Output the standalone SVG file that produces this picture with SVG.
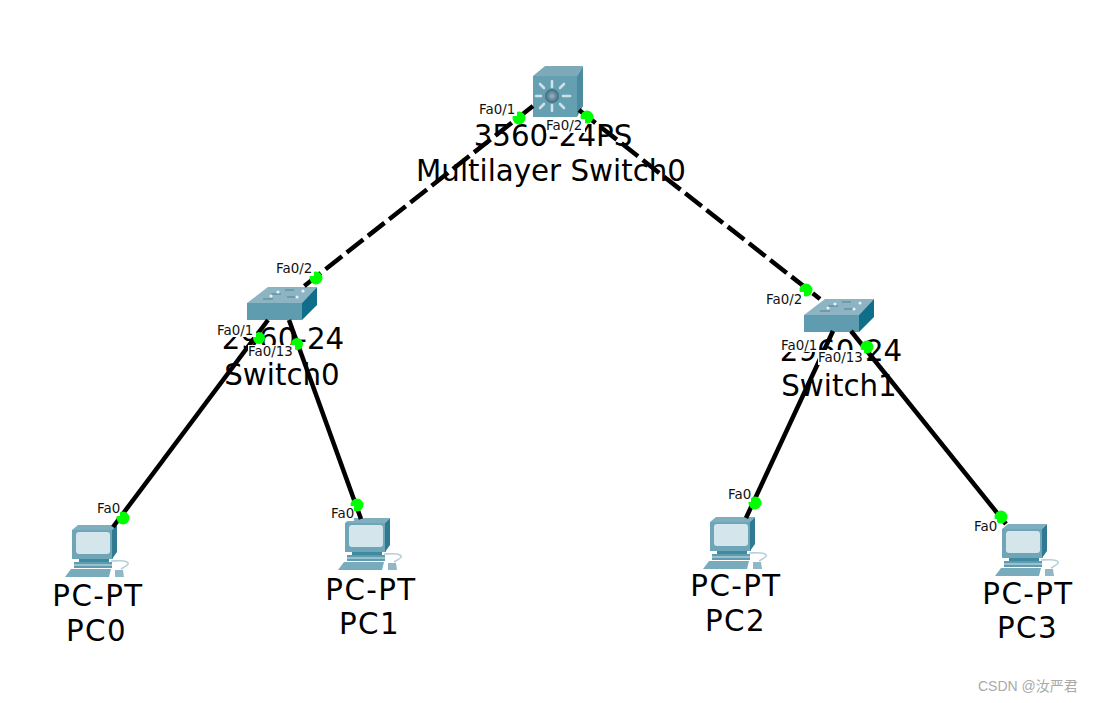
<svg xmlns="http://www.w3.org/2000/svg" width="1093" height="703" viewBox="0 0 1093 703">
<style>
.big{font-family:"DejaVu Sans",sans-serif;font-size:29.3px;fill:#000;text-anchor:middle}
.pcl{letter-spacing:1.4px}
.port{font-family:"DejaVu Sans",sans-serif;font-size:13.4px;fill:#111}
.bg{fill:#fff}
.link{fill:none;stroke:#000;stroke-width:4.5;stroke-linecap:butt}
.dash{stroke-dasharray:21 6}
.dot{fill:#0f0}
.wm{font-family:"Liberation Sans","Noto Sans CJK SC",sans-serif;font-size:14px;fill:#aaa}
</style>
<defs>
<g id="swi">
<polygon points="0,16 21,0 70,0 55,16" fill="#8db4c2"/>
<polygon points="0,16 55,16 55,33 0,33" fill="#5f9cb0"/>
<polygon points="55,16 70,0 70,18 55,33" fill="#0f6f8a"/>
<path d="M24 7h10M38 3h9M40 10h9M16 12h10" stroke="#6f9aaa" stroke-width="2" fill="none"/>
<circle cx="56" cy="4" r="1.6" fill="#e8f2f5"/><circle cx="24" cy="9" r="1.6" fill="#e8f2f5"/><circle cx="31" cy="5" r="1.6" fill="#e8f2f5"/><circle cx="50" cy="10" r="1.6" fill="#e8f2f5"/>
</g>
<g id="pc">
<polygon points="7,5 13,0 52,0 47,5" fill="#7fafbf"/>
<rect x="7" y="5" width="41" height="29" fill="#6ea6b8"/>
<polygon points="47,5 52,0 52,27 47,34" fill="#2f7a92"/>
<rect x="11" y="7" width="34" height="22" rx="3" fill="#d5e5ec"/>
<rect x="14" y="34" width="30" height="3" fill="#3f8aa0"/>
<rect x="9" y="37" width="38" height="6" fill="#5f9cb0"/>
<rect x="9" y="39.500" width="38" height="1" fill="#d5e5ec"/>
<polygon points="6,44 46,44 44,52 0,52" fill="#78abbc"/>
<path d="M46 36c6 0 12-1 16 1s-3 5-6 7" fill="none" stroke="#b7d0d9" stroke-width="1.6"/>
<polygon points="50,45 58,45 59,52 50,52" fill="#8fb7c5"/>
</g>
<radialGradient id="hub"><stop offset="0" stop-color="#9ab4c0"/><stop offset="1" stop-color="#3a6a7e"/></radialGradient>
</defs>
<rect width="1093" height="703" fill="#fff"/>
<g id="mls">
<text class="big" x="553" y="146">3560-24PS</text>
<text class="big" x="551" y="181">Multilayer Switch0</text>
<polygon points="533,76 545,66 583,66 577,76" fill="#7ea9b8"/>
<polygon points="577,76 583,66 583,106 577,117" fill="#4d8ba1"/>
<rect x="533" y="76" width="44" height="41" fill="#659fb2"/>
<g stroke="#cfe0e6" stroke-width="2.6" stroke-linecap="round"><path d="M552 87V81M552 105V111M541 96H536M563 96H570M544 88L540 84M560 88L564 84M544 104L540 108M560 104L564 108"/></g>
<circle cx="552" cy="96" r="7" fill="url(#hub)"/>
</g>
<g id="switch0">
<text class="big" x="283" y="349">2960-24</text>
<text class="big" x="282" y="385">Switch0</text>
<use href="#swi" x="247" y="287"/>
</g>
<g id="switch1">
<text class="big" x="841" y="361">2960-24</text>
<text class="big" x="839" y="396">Switch1</text>
<use href="#swi" x="804" y="299"/>
</g>
<g id="pc0">
<text class="big pcl" x="98" y="606">PC-PT</text>
<text class="big pcl" x="96.500" y="641">PC0</text>
<use href="#pc" x="65" y="525"/>
</g>
<g id="pc1">
<text class="big pcl" x="371" y="600">PC-PT</text>
<text class="big pcl" x="369.500" y="634">PC1</text>
<use href="#pc" x="338" y="518"/>
</g>
<g id="pc2">
<text class="big pcl" x="736" y="596">PC-PT</text>
<text class="big pcl" x="735.500" y="631">PC2</text>
<use href="#pc" x="703" y="517"/>
</g>
<g id="pc3">
<text class="big pcl" x="1028" y="604">PC-PT</text>
<text class="big pcl" x="1027.500" y="638">PC3</text>
<use href="#pc" x="995" y="524"/>
</g>
<g id="connectors">
<line class="link dash" x1="533" y1="106" x2="303" y2="287"/>
<line class="link dash" x1="579" y1="110" x2="820" y2="299"/>
<line class="link" x1="268" y1="320" x2="113" y2="527"/>
<line class="link" x1="289" y1="320" x2="361" y2="519"/>
<line class="link" x1="833" y1="331" x2="746" y2="518"/>
<line class="link" x1="851" y1="331" x2="1006" y2="524"/>
<circle class="dot" cx="519" cy="118" r="6.500"/>
<circle class="dot" cx="587" cy="117" r="6.500"/>
<circle class="dot" cx="316" cy="278" r="6.500"/>
<circle class="dot" cx="806" cy="290" r="6.500"/>
<circle class="dot" cx="259" cy="338" r="6"/>
<circle class="dot" cx="297" cy="344" r="6"/>
<circle class="dot" cx="867" cy="347" r="6.500"/>
<circle class="dot" cx="123" cy="518" r="6.500"/>
<circle class="dot" cx="357" cy="505" r="6.500"/>
<circle class="dot" cx="755" cy="503" r="6.500"/>
<circle class="dot" cx="1001" cy="517" r="6.500"/>
</g>
<g id="port-labels">
<rect class="bg" x="479" y="102" width="38" height="14"/>
<rect class="bg" x="546" y="119" width="39" height="14"/>
<rect class="bg" x="276" y="261" width="38" height="15"/>
<rect class="bg" x="217" y="322" width="39" height="15"/>
<rect class="bg" x="248" y="345" width="47" height="15"/>
<rect class="bg" x="766" y="292" width="38" height="15"/>
<rect class="bg" x="781" y="338" width="38" height="14"/>
<rect class="bg" x="818" y="350" width="46" height="15"/>
<rect class="bg" x="97" y="501" width="23" height="15"/>
<rect class="bg" x="331" y="506" width="23" height="15"/>
<rect class="bg" x="728" y="487" width="23" height="15"/>
<rect class="bg" x="974" y="519" width="23" height="15"/>
<text class="port" x="479" y="114">Fa0/1</text>
<text class="port" x="546" y="130">Fa0/2</text>
<text class="port" x="276" y="273">Fa0/2</text>
<text class="port" x="217" y="335">Fa0/1</text>
<text class="port" x="248" y="356">Fa0/13</text>
<text class="port" x="766" y="304">Fa0/2</text>
<text class="port" x="781" y="350">Fa0/1</text>
<text class="port" x="818" y="362">Fa0/13</text>
<text class="port" x="97" y="513">Fa0</text>
<text class="port" x="331" y="518">Fa0</text>
<text class="port" x="728" y="499">Fa0</text>
<text class="port" x="974" y="531">Fa0</text>
</g>
<text class="wm" x="978" y="691">CSDN @汝严君</text>
</svg>
